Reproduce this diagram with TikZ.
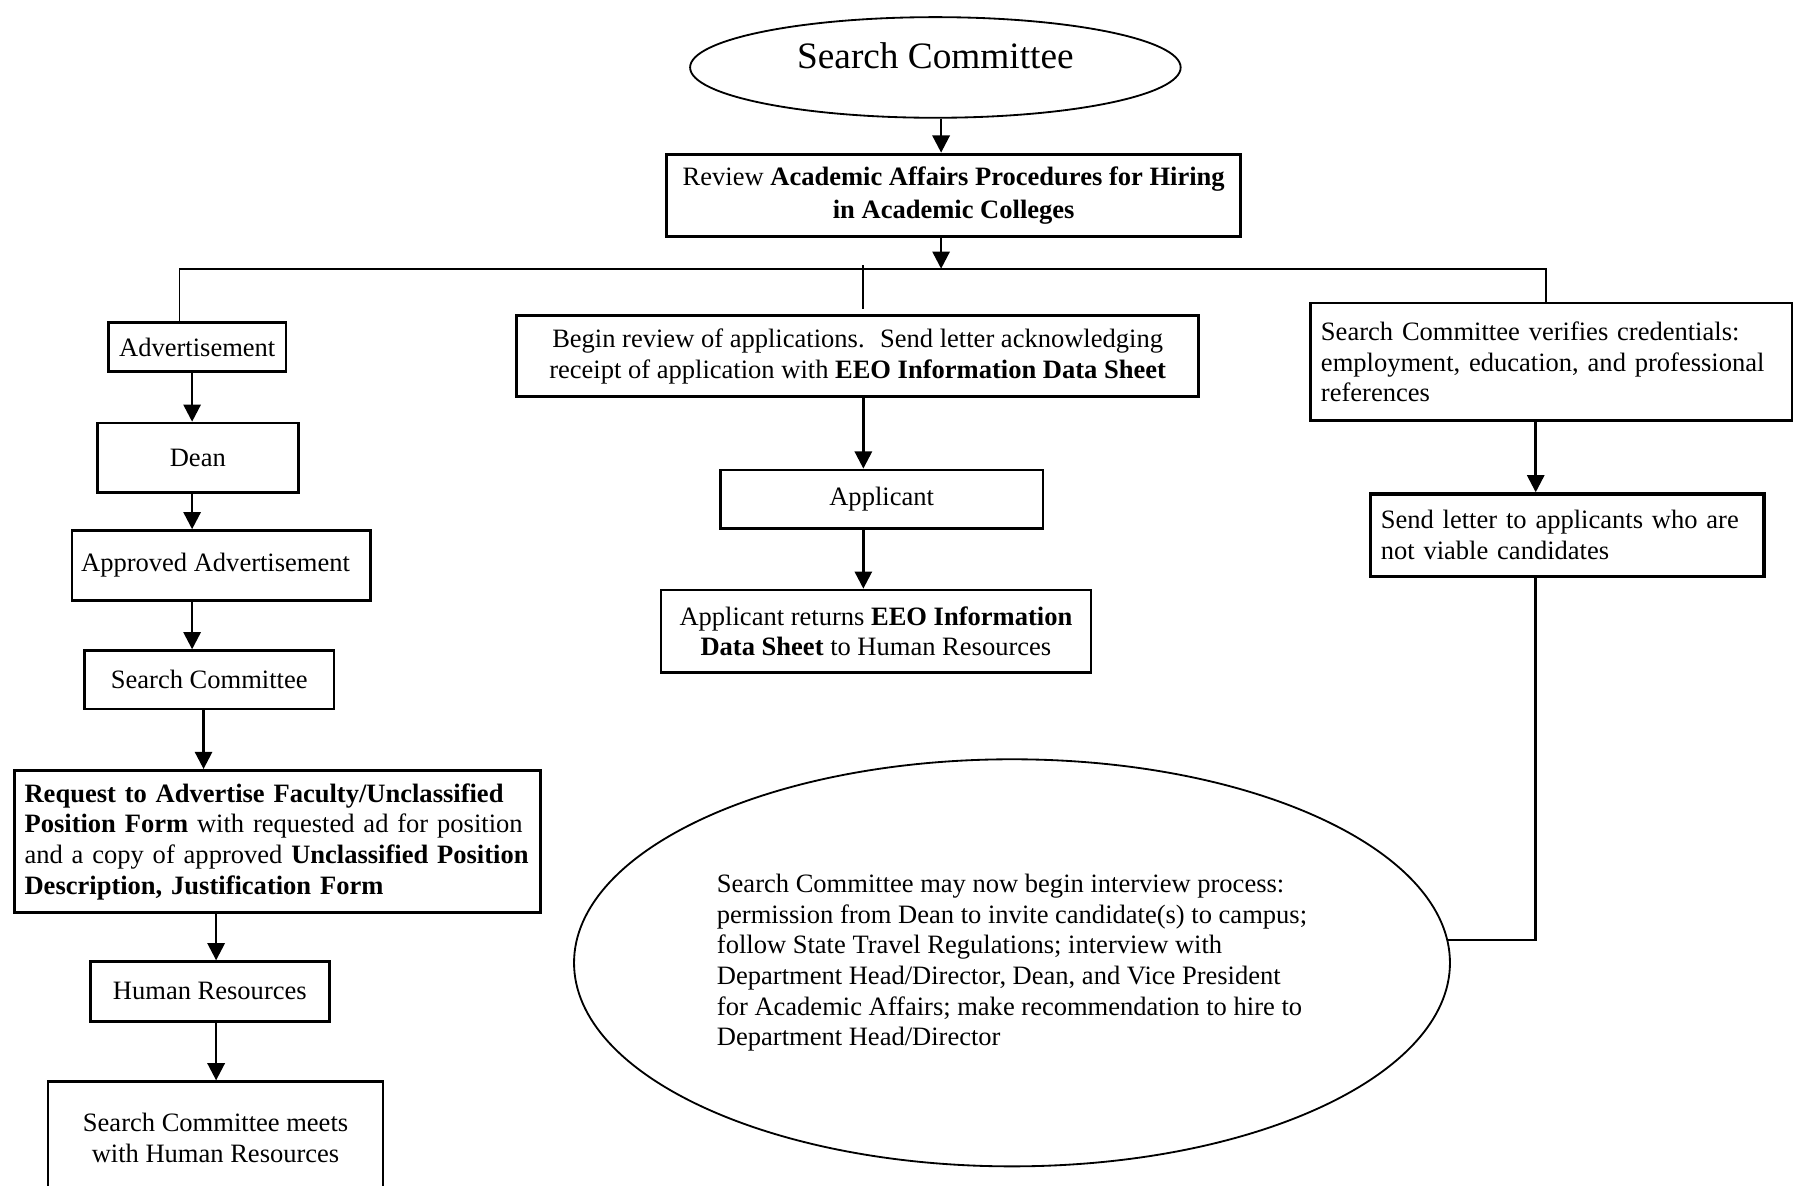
\documentclass[tikz,border=0pt]{standalone}
\usepackage{fontspec}
\setmainfont{Liberation Serif}
\usetikzlibrary{shapes.geometric,arrows.meta}
\tikzset{box/.style={draw, line width=1.2pt, inner sep=0pt, align=center},
leftbox/.style={draw, line width=1.2pt, inner sep=0pt, inner xsep=4.5pt, align=left, anchor=west},
oval/.style={ellipse, draw, line width=0.8pt, inner sep=0pt},
arr/.style={line width=1.1pt, -{Triangle[length=7.5pt,width=7.5pt]}}}

\begin{document}
\begin{tikzpicture}[x=0.5pt, y=-0.5pt, line width=0.8pt, font=\fontsize{11.6pt}{13.4pt}\selectfont]
\useasboundingbox (0,0) rectangle (1568,1037);

\coordinate (spine) at (823,235);
\coordinate (busL) at (157,235);
\coordinate (busR) at (1352,235);
\coordinate (tick) at (755,232);
\coordinate (colA) at (168,0);
\coordinate (colB) at (178,0);
\coordinate (colC) at (189,0);
\coordinate (colM) at (755,0);
\coordinate (colR) at (1343,0);

\node[oval, minimum width=214.5pt, minimum height=44pt, font=\fontsize{16.3pt}{19pt}\selectfont] (title) at (818,59) {\raisebox{10pt}{Search Committee}};
\node[box, line width=1.5pt, minimum width=251pt, minimum height=36pt] (review) at (834,171) {Review \textbf{Academic Affairs Procedures for Hiring}\\[1pt]\textbf{in Academic Colleges}};

% left column
\node[box, minimum width=77.5pt, minimum height=21.5pt] (adv) at (172.5,303.5) {Advertisement};
\node[box, minimum width=88pt, minimum height=30.5pt] (dean) at (173,400.5) {Dean};
\node[box, minimum width=130.5pt, minimum height=30.5pt] (appr) at (193.5,494.5) {Approved Advertisement\hspace{5pt}};
\node[box, minimum width=109pt, minimum height=25.5pt] (sc) at (183,594.5) {Search Committee};
\node[leftbox, line width=1.5pt, text width=221pt, minimum height=62pt] (req) at (11,736) {\textbf{Request to Advertise Faculty/Unclassified}\\\textbf{Position Form} with requested ad for position\\and a copy of approved \textbf{Unclassified Position}\\\textbf{Description, Justification Form}};
\node[box, minimum width=104.5pt, minimum height=26pt] (hr) at (183.5,867) {Human Resources};
\node[box, minimum width=146.5pt, minimum height=49pt] (meet) at (188.5,995) {Search Committee meets\\with Human Resources};

% middle column
\node[box, minimum width=298pt, minimum height=35.5pt] (begin) at (750,311.5) {Begin review of applications.~ Send letter acknowledging\\receipt of application with \textbf{EEO Information Data Sheet}};
\node[box, minimum width=141pt, minimum height=25.5pt] (appl) at (771,436.5) {Applicant};
\node[box, minimum width=188pt, minimum height=36pt] (ret) at (766,552) {Applicant returns \textbf{EEO Information}\\\textbf{Data Sheet} to Human Resources};

% right column
\node[leftbox, text width=201.5pt, minimum height=51.5pt] (verify) at (1145,316.5) {Search Committee verifies credentials:\\employment, education, and professional\\references};
\node[leftbox, line width=1.5pt, text width=163pt, minimum height=36pt] (send) at (1197,468) {Send letter to applicants who are\\not viable candidates};

\node[oval, minimum width=383pt, minimum height=178pt, align=left] (intv) at (885,842) {Search Committee may now begin interview process:\\permission from Dean to invite candidate(s) to campus;\\follow State Travel Regulations; interview with\\Department Head/Director, Dean, and Vice President\\for Academic Affairs; make recommendation to hire to\\Department Head/Director};

\draw[arr] (title.south -| spine) -- (review.north -| spine);
\draw[arr] (review.south -| spine) -- (spine);
\draw (adv.north -| busL) -- (busL) -- (busR) -- (verify.north -| busR);
\draw (tick) -- ([yshift=2.5pt]begin.north -| tick);

\foreach \src/\dst/\col in {adv/dean/colA, dean/appr/colA, appr/sc/colA, sc/req/colB, req/hr/colC, hr/meet/colC, begin/appl/colM, appl/ret/colM, verify/send/colR}
    \draw[arr] (\src.south -| \col) -- (\dst.north -| \col);

\draw[line width=1.1pt] (send.south -| colR) |- (intv.3);

\end{tikzpicture}
\end{document}
